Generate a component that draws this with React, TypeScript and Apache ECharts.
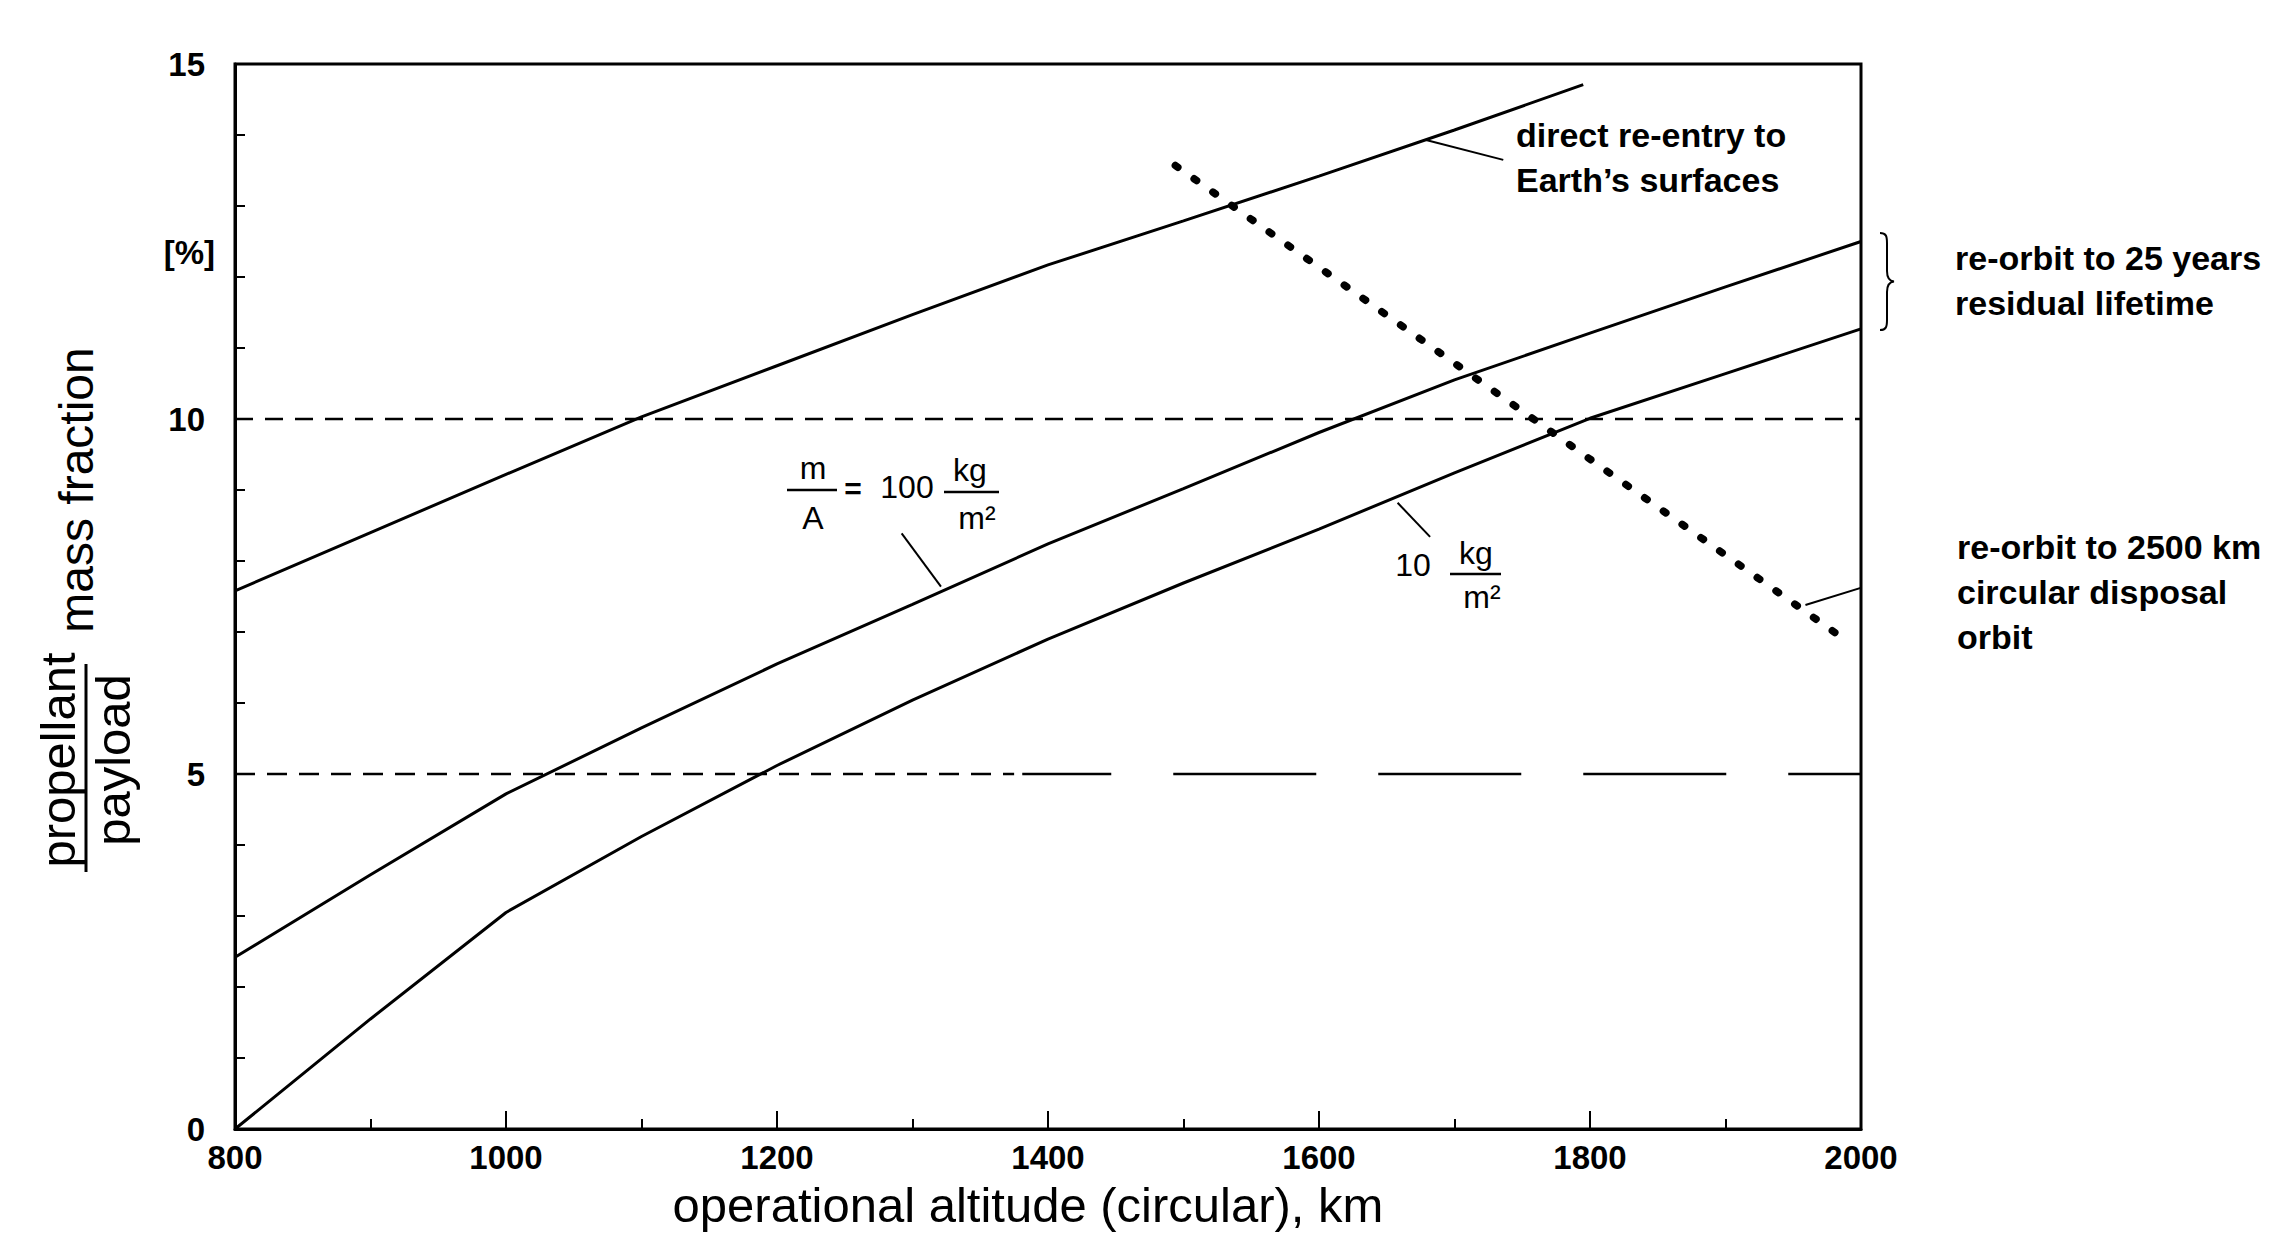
import React, { useEffect, useRef } from 'react';
import * as echarts from 'echarts';

// ---- data ----
const altitudes = [800, 900, 1000, 1100, 1200, 1300, 1400, 1500, 1600, 1700, 1800, 1900, 2000];
const directAlt = [800, 900, 1000, 1100, 1200, 1300, 1400, 1500, 1600, 1700, 1795];
const directReentry = [7.58, 8.4, 9.22, 10.03, 10.75, 11.47, 12.17, 12.79, 13.42, 14.07, 14.71];
const reorbit100 = [2.42, 3.58, 4.72, 5.65, 6.55, 7.39, 8.24, 9.02, 9.81, 10.55, 11.21, 11.86, 12.5];
const reorbit10 = [0, 1.55, 3.05, 4.12, 5.12, 6.04, 6.9, 7.69, 8.45, 9.24, 10.01, 10.64, 11.27];
const disposalAlt = [1494, 1992];
const disposal2500 = [13.57, 6.84];

const ref10Alt = [800, 2000];
const ref10Val = [10, 10];
const ref5ShortAlt = [800, 1375];
const ref5LongAlt = [1381, 2000];
const ref5Val = [5, 5];

// leader lines of the labels (altitude, value)
const leaderDirectAlt = [1679, 1736];
const leaderDirectVal = [13.93, 13.65];
const leader100Alt = [1292, 1321];
const leader100Val = [8.39, 7.64];
const leader10Alt = [1658, 1682];
const leader10Val = [8.82, 8.34];
const leader2500Alt = [1959, 2059];
const leader2500Val = [7.38, 7.97];

const FONT = '"Liberation Sans", Arial, Helvetica, sans-serif';

const zip = (xs: number[], ys: number[]) => xs.map((x, i) => [x, ys[i]]);

const braceD = 'M0 0 C6 0 7 3 7 10 L7 38 C7 45 9 48 14 48.5 C9 49 7 52 7 59 L7 87 C7 94 6 97 0 97';
let braceRegistered = false;

function txt(text: string, x: number, y: number, size: number, weight: string, align = 'left', extra: any = {}, lineHeight = 45) {
  return {
    type: 'text',
    x,
    y,
    silent: true,
    ...extra,
    style: {
      text,
      fill: '#000',
      fontFamily: FONT,
      fontSize: size,
      fontWeight: weight,
      align,
      textAlign: align,
      verticalAlign: 'middle',
      textVerticalAlign: 'middle',
      lineHeight,
    },
  };
}

function bar(x1: number, y1: number, x2: number, y2: number, w = 2.5) {
  return { type: 'line', silent: true, shape: { x1, y1, x2, y2 }, style: { stroke: '#000', lineWidth: w } };
}

function lineSeries(data: number[][], lineStyle: any, extra: any = {}) {
  return {
    type: 'line',
    data,
    symbol: 'none',
    silent: true,
    lineStyle: { color: '#000', ...lineStyle },
    ...extra,
  };
}

export default function App() {
  const ref = useRef<HTMLDivElement>(null);

  useEffect(() => {
    if (!ref.current) return;
    if (!braceRegistered) {
      echarts.graphic.registerShape('brace', echarts.graphic.extendPath(braceD, {}));
      braceRegistered = true;
    }
    const chart = echarts.init(ref.current, undefined, { renderer: 'svg' });
    const axisCommon = {
      type: 'value',
      axisLine: { show: true, onZero: false, lineStyle: { color: '#000', width: 3 } },
      splitLine: { show: false },
    };
    const option: any = {
      animation: false,
      backgroundColor: '#fff',
      grid: {
        left: 235,
        top: 64,
        width: 1626,
        height: 1065,
        show: true,
        borderColor: '#000',
        borderWidth: 3,
        backgroundColor: 'transparent',
      },
      xAxis: {
        ...axisCommon,
        min: 800,
        max: 2000,
        interval: 200,
        axisTick: { show: true, inside: true, length: 18, lineStyle: { color: '#000', width: 2 } },
        minorTick: { show: true, splitNumber: 2, length: 10, lineStyle: { color: '#000', width: 2 } },
        axisLabel: {
          color: '#000',
          fontFamily: FONT,
          fontSize: 33,
          fontWeight: 'bold',
          margin: 12,
          formatter: (v: number) => String(v),
        },
      },
      yAxis: {
        ...axisCommon,
        min: 0,
        max: 15,
        interval: 5,
        axisTick: { show: true, inside: true, length: 10, lineStyle: { color: '#000', width: 2 } },
        minorTick: { show: true, splitNumber: 5, length: 10, lineStyle: { color: '#000', width: 2 } },
        axisLabel: {
          color: '#000',
          fontFamily: FONT,
          fontSize: 33,
          fontWeight: 'bold',
          margin: 30,
          formatter: (v: number) => String(v),
        },
      },
      series: [
        lineSeries(zip(directAlt, directReentry), { width: 3 }),
        lineSeries(zip(altitudes, reorbit100), { width: 3 }),
        lineSeries(zip(altitudes, reorbit10), { width: 3 }),
        lineSeries(zip(ref10Alt, ref10Val), { width: 2.5, type: [18, 12] }),
        lineSeries(zip(ref5ShortAlt, ref5Val), { width: 2.5, type: [20, 12] }),
        lineSeries(zip(ref5LongAlt, ref5Val), { width: 2.5, type: [143, 62], dashOffset: 54 }),
        lineSeries(zip(disposalAlt, disposal2500), { width: 7.5, type: [3, 20], cap: 'round' }),
        lineSeries(zip(leaderDirectAlt, leaderDirectVal), { width: 2 }),
        lineSeries(zip(leader100Alt, leader100Val), { width: 2 }),
        lineSeries(zip(leader10Alt, leader10Val), { width: 2 }),
        lineSeries(zip(leader2500Alt, leader2500Val), { width: 2 }, { clip: false }),
      ],
      graphic: [
        // y axis title: propellant / payload  mass fraction
        txt('propellant', 58, 760, 49, 'normal', 'center', { rotation: Math.PI / 2 }, 56),
        bar(86, 664, 86, 872, 3),
        txt('payload', 113, 760, 49, 'normal', 'center', { rotation: Math.PI / 2 }, 56),
        txt('mass fraction', 76, 490, 48, 'normal', 'center', { rotation: Math.PI / 2 }, 56),
        // x axis title
        txt('operational altitude (circular), km', 1028, 1205, 49, 'normal', 'center', {}, 56),
        // unit
        txt('[%]', 215, 252, 33, 'bold', 'right'),
        // annotations
        txt('direct re-entry to\nEarth\u2019s surfaces', 1516, 157, 34, 'bold', 'left'),
        txt('re-orbit to 25 years\nresidual lifetime', 1955, 280, 34, 'bold', 'left'),
        txt('re-orbit to 2500 km\ncircular disposal\norbit', 1957, 592, 34, 'bold', 'left'),
        { type: 'brace', x: 1880, y: 233, silent: true, style: { stroke: '#000', fill: 'none', lineWidth: 2 } },
        // m/A = 100 kg/m^2
        txt('m', 813, 468, 32, 'normal', 'center'),
        bar(787, 490, 837, 490),
        txt('A', 813, 518, 32, 'normal', 'center'),
        txt('=', 853, 488, 30, 'bold', 'center'),
        txt('100', 907, 487, 32, 'normal', 'center'),
        txt('kg', 970, 470, 32, 'normal', 'center'),
        bar(944, 492, 999, 492),
        txt('m\u00b2', 977, 518, 32, 'normal', 'center'),
        // 10 kg/m^2
        txt('10', 1413, 565, 32, 'normal', 'center'),
        txt('kg', 1476, 553, 32, 'normal', 'center'),
        bar(1450, 574, 1501, 574),
        txt('m\u00b2', 1482, 597, 32, 'normal', 'center'),
      ],
    };
    chart.setOption(option);
    return () => chart.dispose();
  }, []);

  return (
    <div
      ref={ref}
      style={{ position: 'absolute', left: 0, top: 0, width: 2280, height: 1241, background: '#fff' }}
    />
  );
}
